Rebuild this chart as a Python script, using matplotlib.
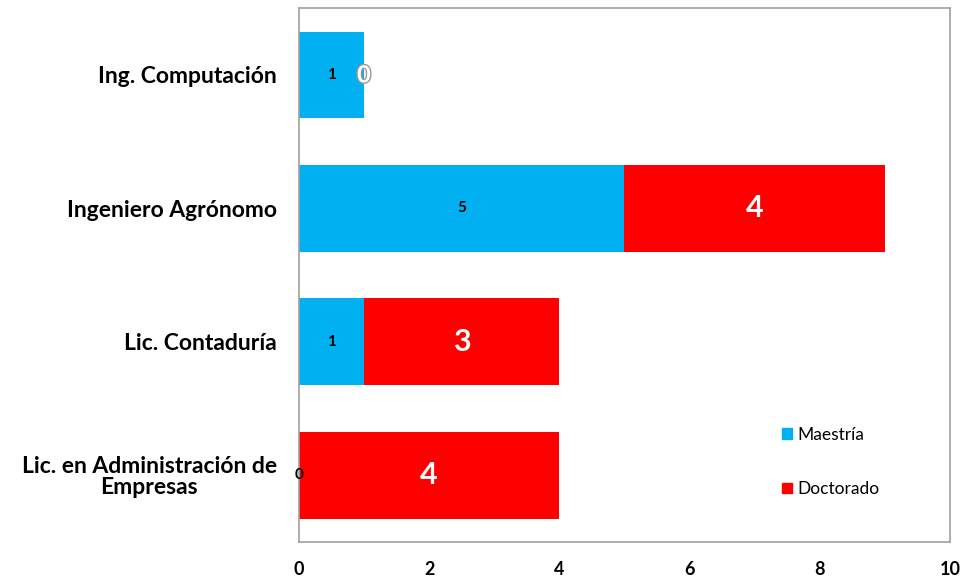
import matplotlib
matplotlib.use("Agg")
import matplotlib.pyplot as plt
import matplotlib.patheffects as pe
from matplotlib.patches import Patch

categories = ["Ing. Computación", "Ingeniero Agrónomo", "Lic. Contaduría",
              "Lic. en Administración de\nEmpresas"]
maestria = [1, 5, 1, 0]
doctorado = [0, 4, 3, 4]
xticks = [0, 2, 4, 6, 8, 10]

c_m = "#00B0F0"
c_d = "#FF0000"

plt.rcParams["font.family"] = ["Lato", "DejaVu Sans"]

fig = plt.figure(figsize=(9.61, 5.79), dpi=100)
ax = fig.add_axes([0.311, 0.0639, 0.6776, 0.922])

y = list(range(len(categories)))
ax.barh(y, maestria, height=0.65, color=c_m, label="Maestría")
ax.barh(y, doctorado, left=maestria, height=0.65, color=c_d, label="Doctorado")

for i in y:
    m = maestria[i]
    d = doctorado[i]
    ax.text(m / 2, i, str(m), ha="center", va="center", fontsize=11,
            fontweight="bold", color="black")
    if d > 0:
        ax.text(m + d / 2, i, str(d), ha="center", va="center", fontsize=22,
                fontweight="bold", color="white")
    else:
        ax.text(m, i, str(d), ha="center", va="center", fontsize=17,
                fontweight="bold", color="white",
                path_effects=[pe.withStroke(linewidth=2, foreground="#999999")])

ax.set_xlim(0, 10)
ax.set_ylim(3.5, -0.5)
ax.set_yticks(y)
ax.set_yticklabels(categories, fontsize=16.5, fontweight="bold",
                   multialignment="center", linespacing=1.0)
ax.set_xticks(xticks)
ax.set_xticklabels([str(t) for t in xticks], fontsize=13, fontweight="bold")
ax.tick_params(axis="both", length=0)
ax.tick_params(axis="x", pad=14)
ax.tick_params(axis="y", pad=16)
for s in ax.spines.values():
    s.set_color("#a0a0a0")
    s.set_linewidth(1.2)

handles = [Patch(color=c_m, label="Maestría"), Patch(color=c_d, label="Doctorado")]
leg = ax.legend(handles=handles, loc="lower right", bbox_to_anchor=(0.915, 0.055),
                frameon=False, fontsize=12.5, handlelength=0.55, handleheight=0.55,
                handletextpad=0.3, labelspacing=2.2)

fig.savefig("out.png", dpi=100)
